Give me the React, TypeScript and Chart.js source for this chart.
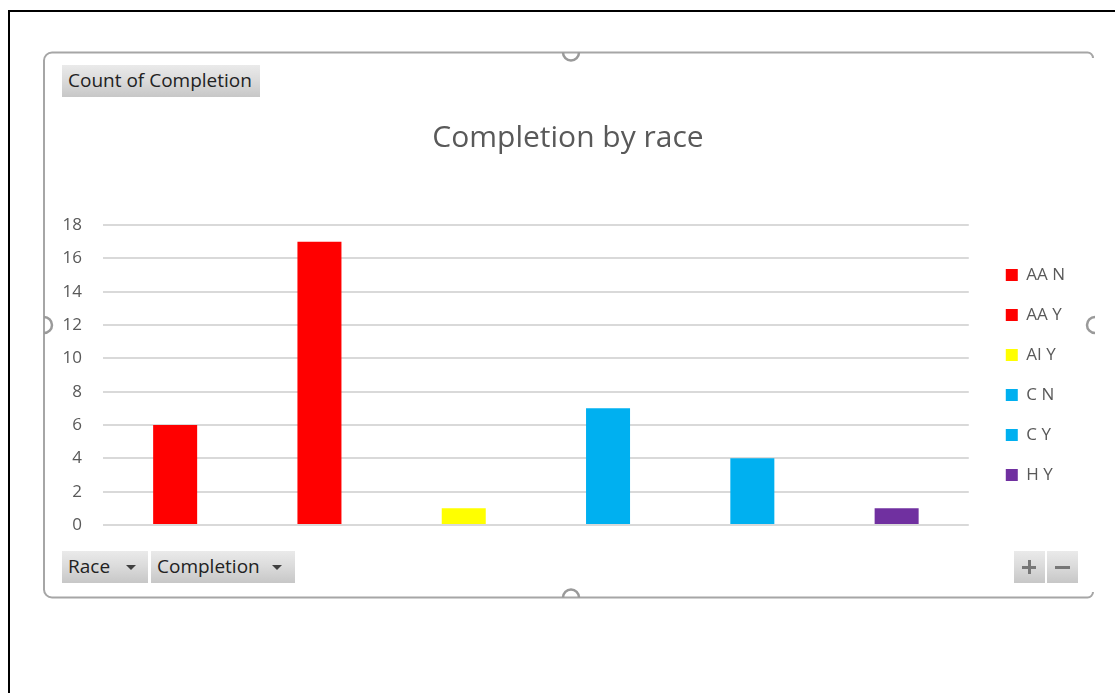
import { useEffect, useRef } from 'react';
import { Chart, registerables } from 'chart.js';

Chart.register(...registerables);

// Race / completion combinations and their counts
const categories = ['AA N', 'AA Y', 'AI Y', 'C N', 'C Y', 'H Y'];
const counts = [6, 17, 1, 7, 4, 1];
const barColors = ['#FF0000', '#FF0000', '#FFFF00', '#00B0F0', '#00B0F0', '#7030A0'];

// Value axis
const yMin = 0;
const yMax = 18;
const yStep = 2;

const chartTitle = 'Completion by race';
const valueFieldLabel = 'Count of Completion';
const axisFieldLabels = ['Race', 'Completion'];

const FONT = "'Open Sans', sans-serif";
const TEXT_GRAY = '#595959';

const buttonStyle: React.CSSProperties = {
  position: 'absolute',
  height: 32,
  boxSizing: 'border-box',
  background: 'linear-gradient(to bottom, #eaeaea 0%, #dcdcdc 45%, #c7c7c7 100%)',
  fontFamily: FONT,
  fontSize: 19,
  lineHeight: '31px',
  color: '#222222',
  paddingLeft: 6,
  whiteSpace: 'nowrap',
};

function Arrow({ left }: { left: number }) {
  return (
    <div
      style={{
        position: 'absolute',
        left,
        top: 14,
        width: 0,
        height: 0,
        borderLeft: '5.5px solid transparent',
        borderRight: '5.5px solid transparent',
        borderTop: '5.5px solid #404040',
      }}
    />
  );
}

function Bar({ left, top, width, height }: { left: number; top: number; width: number; height: number }) {
  return <div style={{ position: 'absolute', left, top, width, height, background: '#777777' }} />;
}

export default function App() {
  const canvasRef = useRef<HTMLCanvasElement>(null);

  useEffect(() => {
    const chart = new Chart(canvasRef.current!, {
      type: 'bar',
      data: {
        labels: categories,
        datasets: [
          {
            label: valueFieldLabel,
            data: counts,
            backgroundColor: barColors,
            borderWidth: 0,
            barPercentage: 0.305,
            categoryPercentage: 1,
          },
        ],
      },
      options: {
        animation: false,
        responsive: false,
        events: [],
        layout: { padding: { left: 15, right: 17, top: 0, bottom: 71 } },
        plugins: {
          title: {
            display: true,
            text: chartTitle,
            color: TEXT_GRAY,
            font: { family: FONT, size: 30, weight: 'normal', lineHeight: 1.2 },
            padding: { top: 66, bottom: 69 },
          },
          legend: {
            position: 'right',
            fullSize: false,
            align: 'center',
            labels: {
              boxWidth: 12,
              boxHeight: 12,
              padding: 23,
              color: TEXT_GRAY,
              font: { family: FONT, size: 17 },
              generateLabels: () =>
                categories.map((text, i) => ({
                  text,
                  fillStyle: barColors[i],
                  strokeStyle: barColors[i],
                  lineWidth: 0,
                  hidden: false,
                  index: i,
                  fontColor: TEXT_GRAY,
                })),
            },
          },
          tooltip: { enabled: false },
        },
        scales: {
          x: { display: false },
          y: {
            min: yMin,
            max: yMax,
            ticks: { stepSize: yStep, padding: 21, color: TEXT_GRAY, font: { family: FONT, size: 17 } },
            grid: { color: '#d9d9d9', lineWidth: 2, drawTicks: false },
            border: { display: false },
            afterFit: (scale: any) => {
              scale.width = 42;
            },
          },
          // empty spacer between the plot and the legend
          spacer: {
            type: 'linear',
            position: 'right',
            display: true,
            grid: { display: false },
            ticks: { display: false },
            border: { display: false },
            afterFit: (scale: any) => {
              scale.width = 14;
            },
          },
        },
      } as any,
    });
    return () => chart.destroy();
  }, []);

  const gray = '#a6a6a6';
  const handle = '#9a9a9a';

  return (
    <div style={{ position: 'absolute', left: 0, top: 0, width: 1115, height: 693, overflow: 'hidden', background: '#ffffff' }}>
      <svg width={1115} height={693} style={{ position: 'absolute', left: 0, top: 0 }}>
        {/* page frame */}
        <path d="M9 693 L9 11 L1115 11" fill="none" stroke="#000000" strokeWidth={2} />
        {/* chart object outline */}
        <path
          d="M1093 58 A5.5 5.5 0 0 0 1087.5 52.5 L52 52.5 A8 8 0 0 0 44 60.5 L44 589.5 A8 8 0 0 0 52 597.5 L1087.5 597.5 A5.5 5.5 0 0 0 1093 592"
          fill="none"
          stroke={gray}
          strokeWidth={2}
        />
        {/* sizing handles */}
        <path d="M563 52.5 A8 8 0 0 0 579 52.5" fill="none" stroke={handle} strokeWidth={2.5} />
        <path d="M563 597.5 A8 8 0 0 1 579 597.5" fill="none" stroke={handle} strokeWidth={2.5} />
        <path d="M44 317 A8 8 0 0 1 44 333" fill="none" stroke={handle} strokeWidth={2.5} />
        <path d="M1095 317 A8 8 0 0 0 1095 333" fill="none" stroke={handle} strokeWidth={2.5} />
      </svg>

      <canvas ref={canvasRef} width={1046} height={542} style={{ position: 'absolute', left: 46, top: 54 }} />

      <div style={{ ...buttonStyle, left: 62, top: 65, width: 198 }}>{valueFieldLabel}</div>

      <div style={{ ...buttonStyle, left: 62, top: 551, width: 86 }}>
        {axisFieldLabels[0]}
        <Arrow left={64} />
      </div>
      <div style={{ ...buttonStyle, left: 151, top: 551, width: 144 }}>
        {axisFieldLabels[1]}
        <Arrow left={121} />
      </div>

      <div style={{ ...buttonStyle, left: 1014, top: 551, width: 31, paddingLeft: 0 }}>
        <Bar left={8} top={14.5} width={14} height={3} />
        <Bar left={13.5} top={9} width={3} height={14} />
      </div>
      <div style={{ ...buttonStyle, left: 1047, top: 551, width: 31, paddingLeft: 0 }}>
        <Bar left={8} top={14.5} width={15} height={3} />
      </div>
    </div>
  );
}
